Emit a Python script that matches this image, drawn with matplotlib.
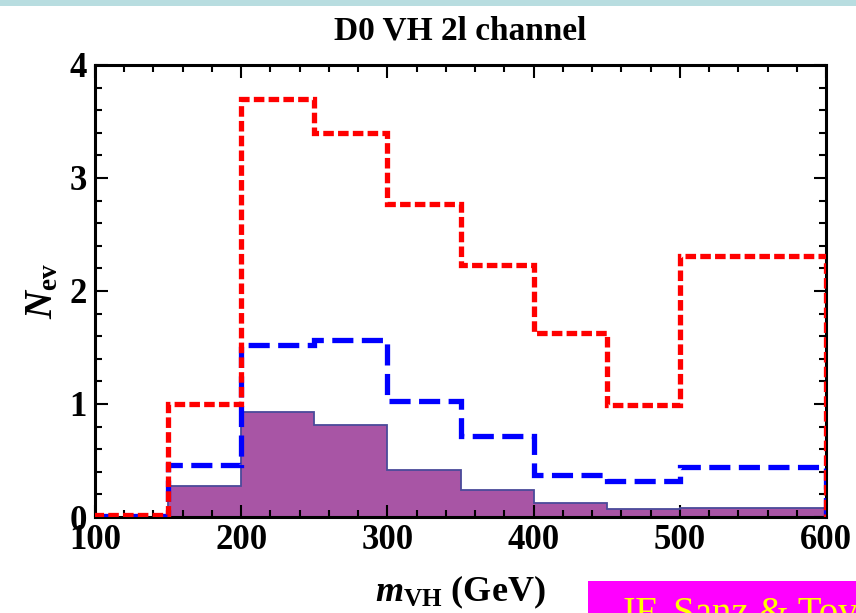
import matplotlib
matplotlib.use('Agg')
import matplotlib.pyplot as plt
import numpy as np
from matplotlib.patches import Rectangle
from matplotlib.ticker import MultipleLocator

# bin edges in m_VH (GeV)
edges = [100, 150, 200, 250, 300, 350, 400, 450, 500, 600]

# event counts per bin
red_vals = [0.02, 1.00, 3.70, 3.40, 2.77, 2.23, 1.63, 0.99, 2.31]
blue_vals = [0.01, 0.46, 1.52, 1.57, 1.03, 0.72, 0.37, 0.32, 0.44]
sm_vals = [0.0, 0.27, 0.93, 0.81, 0.42, 0.24, 0.12, 0.07, 0.08]

title_text = 'D0 VH 2l channel'
credit_text = 'JF. Sanz & Tovar'

plt.rcParams['font.family'] = ['Liberation Serif', 'DejaVu Serif']
plt.rcParams['mathtext.fontset'] = 'custom'
plt.rcParams['mathtext.rm'] = 'Liberation Serif:bold'
plt.rcParams['mathtext.it'] = 'Liberation Serif:italic:bold'
plt.rcParams['mathtext.bf'] = 'Liberation Serif:bold'

fig = plt.figure(figsize=(8.56, 6.13), dpi=100)
ax = fig.add_axes([0.111, 0.1566, 0.854, 0.7374])

#filled SM histogram
ax.stairs(sm_vals, edges, fill=True, facecolor='#A855A5', edgecolor='none', zorder=1)
ax.stairs(sm_vals, edges, fill=False, color='#4A4A9A', lw=1.3, baseline=None, zorder=2)

#blue dashed and red dotted
ax.stairs(blue_vals, edges, color='#0000FF', lw=3.8, linestyle=(0, (4.0, 1.6)), zorder=3)
ax.stairs(red_vals, edges, color='#FF0000', lw=3.8, linestyle=(0, (2.0, 0.8)), zorder=4)

ax.set_xlim(100, 600)
ax.set_ylim(0, 4)
ax.xaxis.set_major_locator(MultipleLocator(100))
ax.xaxis.set_minor_locator(MultipleLocator(20))
ax.yaxis.set_major_locator(MultipleLocator(1))
ax.yaxis.set_minor_locator(MultipleLocator(0.2))
ax.tick_params(which='both', direction='in', top=True, right=True, width=1.5)
ax.tick_params(which='major', length=9)
ax.tick_params(which='minor', length=5)
ax.tick_params(axis='x', pad=5)
ax.tick_params(axis='y', pad=6)
for lab in ax.get_xticklabels() + ax.get_yticklabels():
    lab.set_fontsize(25)
    lab.set_fontweight('bold')
for sp in ax.spines.values():
    sp.set_linewidth(2.2)

ax.set_title(title_text, fontsize=24, fontweight='bold', pad=18)
ax.set_xlabel(r'$m_{\mathrm{VH}}$ (GeV)', fontsize=26, fontweight='bold', labelpad=12)
ax.set_ylabel(r'$N_{\mathrm{ev}}$', fontsize=28, fontweight='bold', labelpad=6)

#slide decorations
fig.patches.append(Rectangle((0, 0.99), 1, 0.01, transform=fig.transFigure,
                             facecolor='#B8DDE0', edgecolor='none', zorder=0))
fig.patches.append(Rectangle((0.687, 0), 0.313, 0.052, transform=fig.transFigure,
                             facecolor='#FF00FF', edgecolor='none', zorder=0))
fig.text(0.724, 0.027, credit_text, color='#FFFF00', fontsize=28, va='top', ha='left')

fig.savefig('out.png', dpi=100)
